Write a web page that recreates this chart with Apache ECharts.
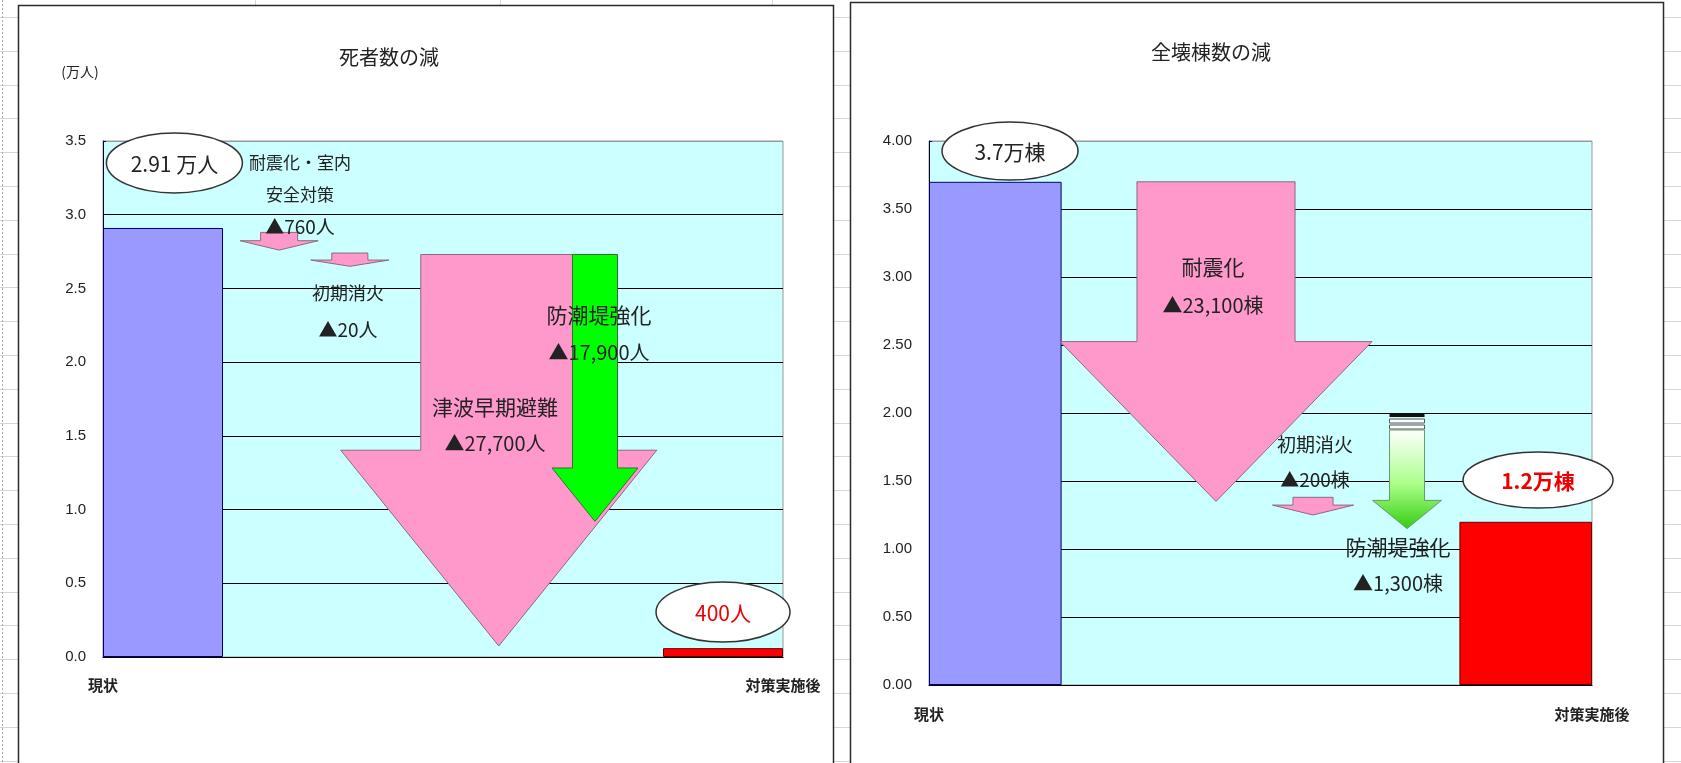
<!DOCTYPE html>
<html>
<head>
<meta charset="utf-8">
<script src="https://cdn.jsdelivr.net/npm/echarts@6/dist/echarts.min.js"></script>
<style>
html,body{margin:0;padding:0;background:#fff;}
#c{width:1681px;height:763px;}
</style>
</head>
<body>
<div id="c"></div>
<script>
// ---------------- data: left chart (死者数の減, 万人) ----------------
const leftTitle = '死者数の減';
const leftUnitLabel = '(万人)';
const leftCategories = ['現状', '対策実施後'];
const leftValues = [2.91, 0.06];
const leftValueLabels = ['2.91 万人', '400人'];
const leftTickLabels = ['0.0', '0.5', '1.0', '1.5', '2.0', '2.5', '3.0', '3.5'];
const leftMeasures = ['耐震化・室内\n安全対策', '初期消火', '津波早期避難', '防潮堤強化'];
const leftReductions = [760, 20, 27700, 17900];
const leftUnit = '人';
const leftArrowTop = [2.88, 2.74, 2.73, 2.73];
const leftArrowTip = [2.76, 2.65, 0.075, 0.92];

// ---------------- data: right chart (全壊棟数の減, 万棟) ----------------
const rightTitle = '全壊棟数の減';
const rightCategories = ['現状', '対策実施後'];
const rightValues = [3.7, 1.2];
const rightValueLabels = ['3.7万棟', '1.2万棟'];
const rightTickLabels = ['0.00', '0.50', '1.00', '1.50', '2.00', '2.50', '3.00', '3.50', '4.00'];
const rightMeasures = ['耐震化', '初期消火', '防潮堤強化'];
const rightReductions = [23100, 200, 1300];
const rightUnit = '棟';
const rightArrowTop = [3.70, 1.38, 2.00];
const rightArrowTip = [1.35, 1.25, 1.15];

// ---------------- layout & styles ----------------
const JP = '"Noto Sans CJK JP", "Noto Sans", sans-serif';
const NUM = '"Liberation Sans", Arial, sans-serif';
const PINK = '#ff99cc', PINK_STROKE = '#8a6a7a';

const leftArrowLayout = [
  { cx: 0.259, shaft: 0.0272, head: 0.0574, wing: 0.47, fill: PINK, stroke: PINK_STROKE },
  { cx: 0.363, shaft: 0.0265, head: 0.0574, wing: 0.53, fill: PINK, stroke: PINK_STROKE },
  { cx: 0.582, shaft: 0.1147, head: 0.2324, wing: 0.50, fill: PINK, stroke: PINK_STROKE },
  { cx: 0.7235, shaft: 0.0331, head: 0.0632, wing: 0.80, fill: '#00ff00', stroke: '#3a6a3a' }
];
const leftTextLayout = [
  { x: 0.2897, ny: 3.242, ry: 2.917, nf: 17, rf: 19, lh: 32 },
  { x: 0.3603, ny: 2.469, ry: 2.218, nf: 18, rf: 19, lh: 24 },
  { x: 0.5765, ny: 1.696, ry: 1.452, nf: 21, rf: 20, lh: 24 },
  { x: 0.7294, ny: 2.320, ry: 2.069, nf: 21, rf: 20, lh: 24 }
];
const leftBadgeLayout = [
  { cx: 0.105, cy: 3.351, rx: 68, ry: 30, color: '#222', weight: 'normal', size: 21 },
  { cx: 0.9118, cy: 0.305, rx: 67, ry: 30, color: '#ee0000', weight: 'normal', size: 21 }
];

const rightArrowLayout = [
  { cx: 0.4329, shaft: 0.1192, head: 0.2353, wing: 0.50, fill: PINK, stroke: PINK_STROKE },
  { cx: 0.5792, shaft: 0.0302, head: 0.0611, wing: 0.44, fill: PINK, stroke: PINK_STROKE },
  { cx: 0.7210, shaft: 0.0264, head: 0.0520, wing: 0.756, gradient: true, striped: true, stroke: '#6a9a6a' }
];
const rightTextLayout = [
  { x: 0.4284, ny: 3.074, ry: 2.794, nf: 21, rf: 20, lh: 24 },
  { x: 0.5822, ny: 1.765, ry: 1.507, nf: 19, rf: 19, lh: 24 },
  { x: 0.7074, ny: 1.015, ry: 0.750, nf: 21, rf: 20, lh: 24 }
];
const rightBadgeLayout = [
  { cx: 0.1222, cy: 3.926, rx: 68, ry: 29, color: '#222', weight: 'normal', size: 21 },
  { cx: 0.9186, cy: 1.507, rx: 75, ry: 28, color: '#ee0000', weight: 'bold', size: 21 }
];

// ---------------- helpers ----------------
function slots(n, positions, values) {
  const arr = new Array(n).fill(null);
  positions.forEach((p, i) => { arr[p] = values[i]; });
  return arr;
}
function makeArrowRender(layout, tops, tips) {
  return function (params, api) {
    const i = params.dataIndex;
    const L = layout[i];
    const top = tops[i], tip = tips[i];
    const wingV = top - (top - tip) * L.wing;
    const c = (x, y) => api.coord([x, y]);
    const pts = [
      c(L.cx - L.shaft, top), c(L.cx + L.shaft, top), c(L.cx + L.shaft, wingV),
      c(L.cx + L.head, wingV), c(L.cx, tip), c(L.cx - L.head, wingV), c(L.cx - L.shaft, wingV)
    ];
    const children = [];
    let fill = L.fill;
    if (L.gradient) {
      fill = new echarts.graphic.LinearGradient(0, 0, 0, 1, [
        { offset: 0, color: '#ffffff' },
        { offset: 0.55, color: '#aaff88' },
        { offset: 1, color: '#33cc11' }
      ]);
    }
    if (L.striped) {
      const a = pts[0], b = pts[1];
      const w = b[0] - a[0];
      children.push({ type: 'rect', shape: { x: a[0], y: a[1], width: w, height: 4 }, style: { fill: '#111' } });
      children.push({ type: 'rect', shape: { x: a[0], y: a[1] + 6, width: w, height: 4 }, style: { fill: '#fff', stroke: '#555', lineWidth: 1 } });
      children.push({ type: 'rect', shape: { x: a[0], y: a[1] + 12, width: w, height: 4 }, style: { fill: '#fff', stroke: '#555', lineWidth: 1 } });
      pts[0] = [a[0], a[1] + 17];
      pts[1] = [b[0], b[1] + 17];
    }
    children.push({ type: 'polygon', shape: { points: pts }, style: { fill: fill, stroke: L.stroke, lineWidth: 1 } });
    return { type: 'group', children: children };
  };
}
function makeTextRender(layout, names, reductions, unit) {
  return function (params, api) {
    const i = params.dataIndex;
    const L = layout[i];
    const p1 = api.coord([L.x, L.ny]);
    const p2 = api.coord([L.x, L.ry]);
    return {
      type: 'group',
      children: [
        { type: 'text', style: { text: names[i], x: p1[0], y: p1[1], align: 'center', verticalAlign: 'middle',
          fontSize: L.nf, fontFamily: JP, fill: '#222', lineHeight: L.lh } },
        { type: 'text', style: { text: '▲' + reductions[i].toLocaleString('en-US') + unit, x: p2[0], y: p2[1],
          align: 'center', verticalAlign: 'middle', fontSize: L.rf, fontFamily: JP, fill: '#222' } }
      ]
    };
  };
}
function makeBadgeRender(layout, labels) {
  return function (params, api) {
    const i = params.dataIndex;
    const L = layout[i];
    const p = api.coord([L.cx, L.cy]);
    return {
      type: 'group',
      children: [
        { type: 'ellipse', shape: { cx: p[0], cy: p[1], rx: L.rx, ry: L.ry }, style: { fill: '#fff', stroke: '#333', lineWidth: 1.5 } },
        { type: 'text', style: { text: labels[i], x: p[0], y: p[1] + 1, align: 'center', verticalAlign: 'middle',
          fontSize: L.size, fontWeight: L.weight, fontFamily: JP, fill: L.color } }
      ]
    };
  };
}

// bar slot layout (category bands)
const LEFT_BANDS = 17, LEFT_POS = [1, 15];
const RIGHT_BANDS = 5, RIGHT_POS = [0, 4];
const barColors = [
  { color: '#9999ff', borderColor: '#000066', borderWidth: 1 },
  { color: '#ff0000', borderColor: '#660000', borderWidth: 1 }
];
function barData(n, pos, values) {
  const arr = new Array(n).fill(null);
  pos.forEach((p, i) => { arr[p] = { value: values[i], itemStyle: barColors[i] }; });
  return arr;
}
const leftBandNames = slots(LEFT_BANDS, LEFT_POS, leftCategories).map(v => v || '');
const rightBandNames = slots(RIGHT_BANDS, RIGHT_POS, rightCategories).map(v => v || '');

function yAxisCfg(grid, max, labels, margin) {
  const n = labels.length;
  const colors = labels.map((l, i) => (i === n - 1 ? '#999999' : '#000000'));
  return {
    type: 'value', gridIndex: grid, min: 0, max: max, interval: 0.5,
    axisLine: { show: true, lineStyle: { color: '#000033', width: 1 } },
    axisTick: { show: true, inside: true, length: 3, lineStyle: { color: '#000066' } },
    axisLabel: { margin: margin, fontSize: 15, fontFamily: NUM, color: '#222',
      formatter: v => labels[Math.round(v / 0.5)] },
    splitLine: { show: true, lineStyle: { color: colors, width: 1.2 } }
  };
}
function catLabelAxis(grid, cats, margin) {
  return {
    type: 'category', gridIndex: grid, data: cats, boundaryGap: false, position: 'bottom',
    axisLine: { show: false }, axisTick: { show: false }, splitLine: { show: false },
    axisLabel: { margin: margin, fontSize: 15, fontWeight: 'bold', fontFamily: JP, color: '#222',
      alignMinLabel: 'center', alignMaxLabel: 'center', interval: 0 }
  };
}
function bandAxis(grid, names) {
  return {
    type: 'category', gridIndex: grid, data: names, boundaryGap: true, position: 'bottom',
    axisLine: { show: true, lineStyle: { color: '#000', width: 1.2 } },
    axisTick: { show: false }, axisLabel: { show: false }, splitLine: { show: false }
  };
}
function hiddenX(grid) {
  return { type: 'value', gridIndex: grid, min: 0, max: 1, show: false, splitLine: { show: false } };
}

// spreadsheet background + frames
const graphics = [];
for (let k = 0; k < 23; k++) {
  const y = Math.round(17 + 33.8 * k) + 0.5;
  graphics.push({ type: 'line', z: -20, shape: { x1: 0, y1: y, x2: 1681, y2: y }, style: { stroke: '#d6d6d6', lineWidth: 1 } });
}
[255, 500, 772].forEach(x => graphics.push({ type: 'line', z: -20, shape: { x1: x + 0.5, y1: 0, x2: x + 0.5, y2: 763 }, style: { stroke: '#d6d6d6', lineWidth: 1 } }));
graphics.push({ type: 'line', z: -19, shape: { x1: 2.5, y1: 0, x2: 2.5, y2: 763 }, style: { stroke: '#aaaaaa', lineWidth: 1, lineDash: [2, 2] } });
graphics.push({ type: 'rect', z: -10, shape: { x: 18.5, y: 5.5, width: 815, height: 780 }, style: { fill: '#fff', stroke: '#2a2a2a', lineWidth: 1.5 } });
graphics.push({ type: 'rect', z: -10, shape: { x: 850.5, y: 2.5, width: 813, height: 780 }, style: { fill: '#fff', stroke: '#2a2a2a', lineWidth: 1.5 } });
graphics.push({ type: 'text', z: 10, style: { text: leftTitle, x: 389, y: 57, align: 'center', verticalAlign: 'middle', fontSize: 20, fontFamily: JP, fill: '#222' } });
graphics.push({ type: 'text', z: 10, style: { text: rightTitle, x: 1211, y: 52, align: 'center', verticalAlign: 'middle', fontSize: 20, fontFamily: JP, fill: '#222' } });
graphics.push({ type: 'text', z: 10, style: { text: leftUnitLabel, x: 80, y: 72, align: 'center', verticalAlign: 'middle', fontSize: 14, fontFamily: JP, fill: '#222' } });

const option = {
  animation: false,
  backgroundColor: '#ffffff',
  graphic: { elements: graphics },
  grid: [
    { left: 103, top: 141, width: 680, height: 516, show: true, backgroundColor: '#ccffff', borderColor: '#999', borderWidth: 1, containLabel: false, outerBoundsMode: 'none' },
    { left: 929, top: 141, width: 663, height: 544, show: true, backgroundColor: '#ccffff', borderColor: '#999', borderWidth: 1, containLabel: false, outerBoundsMode: 'none' }
  ],
  xAxis: [
    bandAxis(0, leftBandNames),
    catLabelAxis(0, leftCategories, 21),
    hiddenX(0),
    bandAxis(1, rightBandNames),
    catLabelAxis(1, rightCategories, 22),
    hiddenX(1)
  ],
  yAxis: [
    yAxisCfg(0, 3.5, leftTickLabels, 17),
    yAxisCfg(1, 4, rightTickLabels, 17)
  ],
  series: [
    { type: 'bar', xAxisIndex: 0, yAxisIndex: 0, barWidth: '300%', data: barData(LEFT_BANDS, LEFT_POS, leftValues), z: 2 },
    { type: 'bar', xAxisIndex: 3, yAxisIndex: 1, barWidth: '100%', data: barData(RIGHT_BANDS, RIGHT_POS, rightValues), z: 2 },
    { type: 'custom', xAxisIndex: 2, yAxisIndex: 0, clip: false, z: 3,
      renderItem: makeArrowRender(leftArrowLayout, leftArrowTop, leftArrowTip),
      data: leftReductions.map((v, i) => [i / 10, 0]) },
    { type: 'custom', xAxisIndex: 5, yAxisIndex: 1, clip: false, z: 3,
      renderItem: makeArrowRender(rightArrowLayout, rightArrowTop, rightArrowTip),
      data: rightReductions.map((v, i) => [i / 10, 0]) },
    { type: 'custom', xAxisIndex: 2, yAxisIndex: 0, clip: false, z: 5,
      renderItem: makeTextRender(leftTextLayout, leftMeasures, leftReductions, leftUnit),
      data: leftReductions.map((v, i) => [i / 10, 0]) },
    { type: 'custom', xAxisIndex: 5, yAxisIndex: 1, clip: false, z: 5,
      renderItem: makeTextRender(rightTextLayout, rightMeasures, rightReductions, rightUnit),
      data: rightReductions.map((v, i) => [i / 10, 0]) },
    { type: 'custom', xAxisIndex: 2, yAxisIndex: 0, clip: false, z: 6,
      renderItem: makeBadgeRender(leftBadgeLayout, leftValueLabels),
      data: leftValues.map((v, i) => [i / 10, 0]) },
    { type: 'custom', xAxisIndex: 5, yAxisIndex: 1, clip: false, z: 6,
      renderItem: makeBadgeRender(rightBadgeLayout, rightValueLabels),
      data: rightValues.map((v, i) => [i / 10, 0]) }
  ]
};

const chart = echarts.init(document.getElementById('c'), null, { renderer: 'canvas' });
chart.setOption(option);
</script>
</body>
</html>
